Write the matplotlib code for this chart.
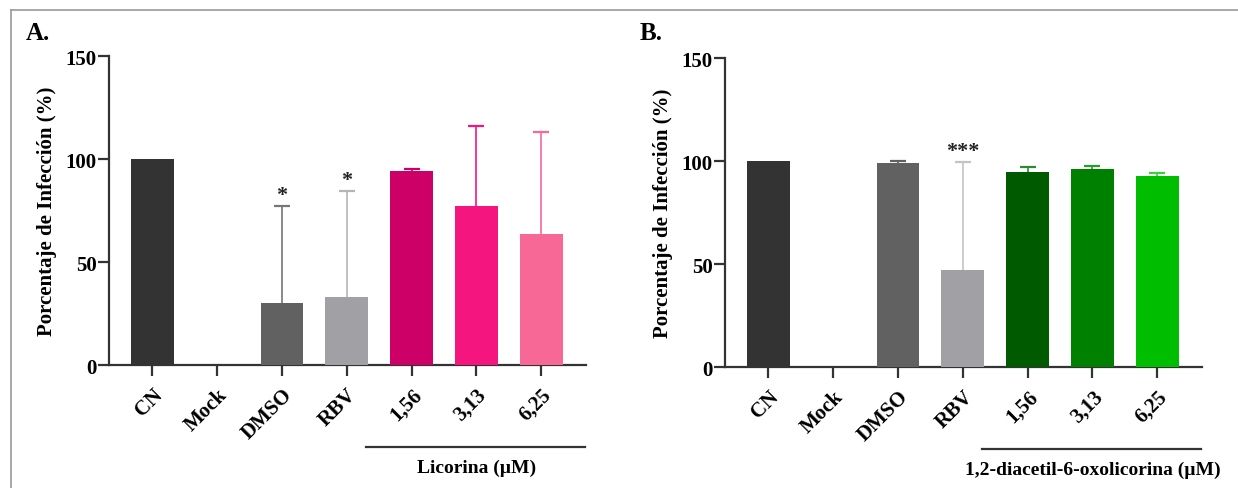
import matplotlib.pyplot as plt
import matplotlib.transforms as mtransforms
from matplotlib.lines import Line2D
import numpy as np

plt.rcParams['font.family'] = ['Liberation Serif', 'DejaVu Serif']
plt.rcParams['font.weight'] = 'bold'

categories = ['CN', 'Mock', 'DMSO', 'RBV', '1,56', '3,13', '6,25']

# panel A: licorina
vals_a = [100, 0, 30, 33, 94.2, 77.2, 63.6]
err_a = [0, 0, 47, 51.5, 0.8, 38.8, 49.4]
stars_a = ['', '', '*', '*', '', '', '']
colors_a = ['#333333', '#333333', '#616161', '#a1a0a5', '#cc0066', '#f5157f', '#f86896']
ecolors_a = ['#333333', '#333333', '#777777', '#b5b5b8', '#cc0066', '#f5157f', '#f86896']

# panel B: 1,2-diacetil-6-oxolicorina
vals_b = [100, 0, 99.2, 47, 94.5, 96.1, 92.8]
err_b = [0, 0, 0.6, 52.5, 2.6, 1.3, 1.3]
stars_b = ['', '', '', '***', '', '', '']
colors_b = ['#333333', '#333333', '#616161', '#a1a0a5', '#005a00', '#008000', '#00bd00']
ecolors_b = ['#333333', '#333333', '#616161', '#c4c4c6', '#2e8a2e', '#2e9a2e', '#3ccf3c']

fig = plt.figure(figsize=(12.38, 4.89), dpi=100)
ax_a = fig.add_axes([0.0880, 0.2515, 0.3853, 0.6319])
ax_b = fig.add_axes([0.5856, 0.2474, 0.3853, 0.6319])

# grey frame around the figure
fig.add_artist(Line2D([11 / 1238, 1.0], [1 - 11 / 489, 1 - 11 / 489],
                      color='#9a9a9a', lw=1.2, transform=fig.transFigure))
fig.add_artist(Line2D([11 / 1238, 11 / 1238], [0, 1 - 11 / 489],
                      color='#9a9a9a', lw=1.2, transform=fig.transFigure))


def draw_panel(ax, vals, errs, stars, colors, ecolors, group_label):
    x = np.arange(len(categories))
    ax.bar(x, vals, width=0.66, color=colors, zorder=3)
    for xi, v, e, c in zip(x, vals, errs, ecolors):
        if e > 0:
            eb = ax.errorbar(xi, v, yerr=[[0], [e]], fmt='none', ecolor=c,
                             elinewidth=1.2, capsize=6, capthick=1.6, zorder=2)
            # keep only the upper cap
            for cap in eb.lines[1]:
                if np.allclose(cap.get_ydata(), v):
                    cap.set_visible(False)
    for xi, v, e, s in zip(x, vals, errs, stars):
        if s:
            ax.text(xi, v + e + 0.5, s, ha='center', va='bottom',
                    fontsize=16, color='#222222')
    ax.set_xlim(-0.67, 6.69)
    ax.set_ylim(0, 150)
    ax.set_yticks([0, 50, 100, 150])
    ax.set_xticks(x)
    ax.set_xticklabels(categories, rotation=45, ha='right',
                       rotation_mode='anchor', fontsize=15, fontweight='bold')
    for lab in ax.get_yticklabels():
        lab.set_fontsize(15)
        lab.set_fontweight('bold')
    for sp in ['top', 'right']:
        ax.spines[sp].set_visible(False)
    for sp in ['left', 'bottom']:
        ax.spines[sp].set_linewidth(1.6)
        ax.spines[sp].set_color('#333333')
    ax.tick_params(axis='y', length=8, width=1.6, color='#333333', pad=1)
    ax.tick_params(axis='x', length=8, width=1.6, color='#333333', pad=6)
    ax.set_ylabel('Porcentaje de Infección (%)', fontsize=15,
                  fontweight='bold', labelpad=6)

    trans = mtransforms.blended_transform_factory(ax.transData, ax.transAxes)
    ax.add_artist(Line2D([3.3, 6.68], [-0.265, -0.265], color='#333333',
                         lw=1.6, transform=trans, clip_on=False))
    ax.text(5.0, -0.33, group_label, transform=trans, ha='center',
            va='center', fontsize=14, fontweight='bold')


draw_panel(ax_a, vals_a, err_a, stars_a, colors_a, ecolors_a, 'Licorina (µM)')
draw_panel(ax_b, vals_b, err_b, stars_b, colors_b, ecolors_b,
           '1,2-diacetil-6-oxolicorina (µM)')

fig.text(26 / 1238, 1 - 33 / 489, 'A.', fontsize=18, fontweight='bold',
         va='center', ha='left')
fig.text(640 / 1238, 1 - 33 / 489, 'B.', fontsize=18, fontweight='bold',
         va='center', ha='left')

plt.savefig('out.png', dpi=100)
